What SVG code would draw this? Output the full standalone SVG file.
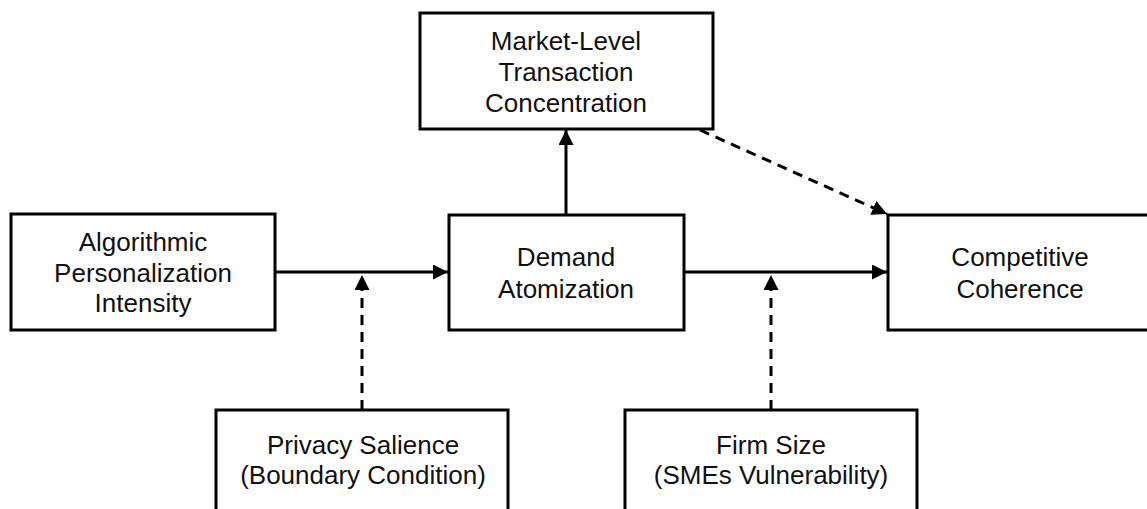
<svg xmlns="http://www.w3.org/2000/svg" width="1147" height="509" viewBox="0 0 1147 509">
<defs>
<style>
.box{fill:#fff;stroke:#000;stroke-width:3}
.t{font-family:"Liberation Sans",Arial,Helvetica,sans-serif;font-size:26px;fill:#111;text-anchor:middle}
.c{fill:none;stroke:#000;stroke-width:3}
.d{stroke-dasharray:10 7}
</style>
<marker id="ah" markerUnits="userSpaceOnUse" markerWidth="16" markerHeight="16" refX="15" refY="7.5" orient="auto">
<path d="M0,0 L15,7.5 L0,15 z" fill="#000"/>
</marker>
</defs>
<rect width="1147" height="509" fill="#fff"/>
<g id="connectors">
<line class="c" x1="275" y1="272" x2="448" y2="272" marker-end="url(#ah)"/>
<line class="c" x1="684" y1="272" x2="887" y2="272" marker-end="url(#ah)"/>
<line class="c" x1="566" y1="215" x2="566" y2="130" marker-end="url(#ah)"/>
<line class="c d" x1="362" y1="410" x2="362" y2="275" marker-end="url(#ah)"/>
<line class="c d" x1="771" y1="410" x2="771" y2="275" marker-end="url(#ah)"/>
<line class="c d" x1="700" y1="130" x2="887" y2="214" marker-end="url(#ah)"/>
</g>
<g id="n-algo">
<rect class="box" x="11" y="214" width="264" height="116"/>
<text class="t" x="143" y="251">Algorithmic</text>
<text class="t" x="143" y="282">Personalization</text>
<text class="t" x="143" y="312">Intensity</text>
</g>
<g id="n-market">
<rect class="box" x="420" y="13" width="293" height="116"/>
<text class="t" x="566" y="50">Market-Level</text>
<text class="t" x="566" y="81">Transaction</text>
<text class="t" x="566" y="112">Concentration</text>
</g>
<g id="n-demand">
<rect class="box" x="449" y="215" width="235" height="115"/>
<text class="t" x="566" y="266">Demand</text>
<text class="t" x="566" y="298">Atomization</text>
</g>
<g id="n-comp">
<rect class="box" x="888" y="215" width="270" height="115"/>
<text class="t" x="1020" y="266">Competitive</text>
<text class="t" x="1020" y="298">Coherence</text>
</g>
<g id="n-privacy">
<rect class="box" x="216" y="410" width="292" height="120"/>
<text class="t" x="363" y="454">Privacy Salience</text>
<text class="t" x="363" y="484">(Boundary Condition)</text>
</g>
<g id="n-firm">
<rect class="box" x="625" y="410" width="292" height="120"/>
<text class="t" x="771" y="454">Firm Size</text>
<text class="t" x="771" y="484">(SMEs Vulnerability)</text>
</g>
</svg>
